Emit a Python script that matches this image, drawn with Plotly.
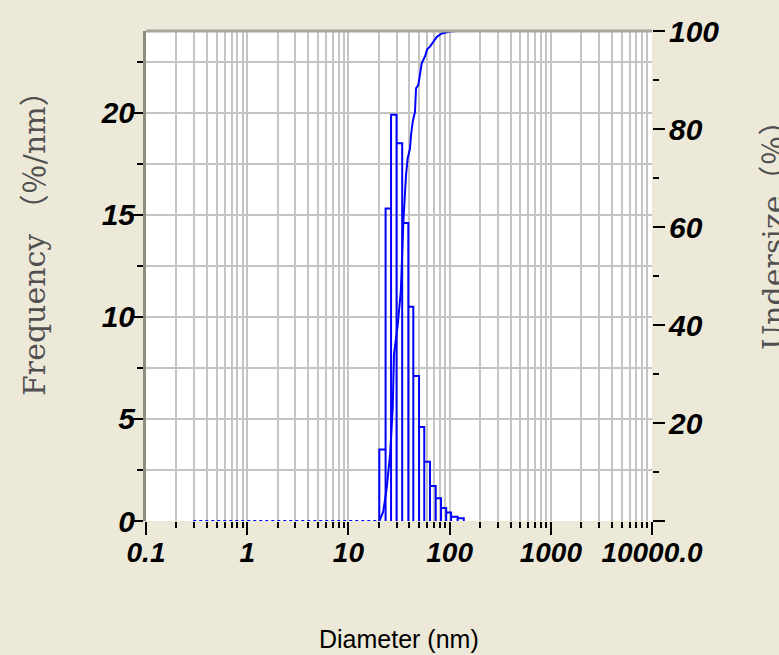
import plotly.graph_objects as go

# ---- data ----
bin_edges_nm = [20.2, 23.3, 26.4, 29.9, 34.0, 39.1, 43.8, 49.9, 56.2, 64.0,
                72.9, 82.3, 92.5, 103.5, 120.0, 138.0]
frequency = [3.5, 15.3, 19.9, 18.5, 14.6, 10.5, 7.1, 4.6, 2.9, 1.72,
             1.11, 0.64, 0.42, 0.21, 0.13]

zero_range_nm = [0.293, 20.2]   # dotted zero-frequency segment
zero_values = [0, 0]

cum_diam_nm = [20.2, 22.1, 23.9, 25.8, 27.4, 28.2, 30.7, 33.0, 34.9, 36.0,
               37.1, 38.5, 40.6, 41.6, 43.2, 45.5, 46.6, 49.1, 50.2, 53.0,
               57.1, 60.2, 64.0, 69.0, 74.6, 83.6, 100.9, 119.0]
undersize = [0.0, 1.9, 6.7, 13.5, 23.0, 33.9, 40.0, 47.0, 61.0, 66.5,
             70.6, 74.0, 76.0, 78.8, 81.5, 83.5, 88.3, 89.0, 90.3, 93.4,
             94.8, 96.3, 96.8, 97.8, 98.8, 99.5, 99.9, 100.0]

x_major = [0.1, 1, 10, 100, 1000, 10000]
x_major_text = ["0.1", "1", "10", "100", "1000", "10000.0"]
x_minor = [m * d for d in [0.1, 1, 10, 100, 1000] for m in range(2, 10)]

y_major = [0, 5, 10, 15, 20]
y_major_text = ["0", "5", "10", "15", "20"]
y_minor = [2.5, 7.5, 12.5, 17.5, 22.5]

y2_major = [0, 20, 40, 60, 80, 100]
y2_major_text = ["", "20", "40", "60", "80", "100"]
y2_minor = [10, 30, 50, 70, 90]

# ---- build histogram outline path from the data ----
hx, hy = [], []
for i, h in enumerate(frequency):
    hx += [bin_edges_nm[i], bin_edges_nm[i], bin_edges_nm[i + 1], bin_edges_nm[i + 1]]
    hy += [0, h, h, 0]

BLUE = "#0000FF"
GRID = "#c4c4c4"
xtickfont = dict(family="Liberation Sans, Arial, sans-serif", size=28,
                 color="black", weight="bold", style="italic")
ytickfont = dict(family="Liberation Sans, Arial, sans-serif", size=30,
                 color="black", weight="bold", style="italic")
titlefont = dict(family="DejaVu Serif, Noto Sans CJK JP, serif", size=30, color="#505050")

fig = go.Figure()
fig.add_trace(go.Scatter(x=zero_range_nm, y=zero_values, mode="lines",
                         line=dict(color=BLUE, width=2, dash="dot"),
                         showlegend=False, hoverinfo="skip"))
fig.add_trace(go.Scatter(x=hx, y=hy, mode="lines",
                         line=dict(color=BLUE, width=2),
                         showlegend=False))
fig.add_trace(go.Scatter(x=cum_diam_nm, y=undersize, mode="lines", yaxis="y2",
                         line=dict(color=BLUE, width=2),
                         showlegend=False))

fig.update_layout(
    width=779, height=655,
    margin=dict(l=146, r=127, t=31, b=134),
    paper_bgcolor="#ECE9D8",
    plot_bgcolor="white",
    xaxis=dict(type="log", range=[-1, 4], tickvals=x_major, ticktext=x_major_text,
               ticks="outside", ticklen=13, tickwidth=2, tickcolor="black",
               tickfont=xtickfont, ticklabelstandoff=-7,
               showgrid=True, gridcolor=GRID, gridwidth=2,
               zeroline=False, showline=False,
               minor=dict(tickvals=x_minor, ticks="outside", ticklen=6, tickwidth=2,
                          tickcolor="black", showgrid=True, gridcolor=GRID, gridwidth=2)),
    yaxis=dict(range=[0, 24], tickvals=y_major, ticktext=y_major_text,
               ticks="outside", ticklen=10, tickwidth=2, tickcolor="black",
               tickfont=ytickfont, ticklabelstandoff=-8,
               showgrid=True, gridcolor=GRID, gridwidth=2,
               zeroline=False, showline=True, linecolor="#8c8c80", linewidth=3,
               minor=dict(tickvals=y_minor, ticks="outside", ticklen=6, tickwidth=2,
                          tickcolor="black", showgrid=True, gridcolor=GRID, gridwidth=2)),
    yaxis2=dict(range=[0, 100], overlaying="y", side="right",
                tickvals=y2_major, ticktext=y2_major_text,
                ticks="outside", ticklen=12, tickwidth=2, tickcolor="black",
                tickfont=ytickfont, ticklabelstandoff=-2,
                showgrid=False, zeroline=False, showline=False,
                minor=dict(tickvals=y2_minor, ticks="outside", ticklen=6, tickwidth=2,
                           tickcolor="black")),
    shapes=[dict(type="line", xref="paper", yref="paper", x0=0, x1=1, y0=1, y1=1,
                 line=dict(color="#a8a89c", width=3), layer="above")],
    annotations=[
        dict(text="Frequency （％/nm）", xref="paper", yref="paper",
             x=(34 - 146) / 506, y=(521 - 236) / 490, xanchor="center", yanchor="middle",
             textangle=-90, showarrow=False, font=titlefont),
        dict(text="Undersize（％）", xref="paper", yref="paper",
             x=(773 - 146) / 506, y=(521 - 228) / 490, xanchor="center", yanchor="middle",
             textangle=-90, showarrow=False, font=titlefont),
        dict(text="Diameter (nm)", xref="paper", yref="paper",
             x=(399 - 146) / 506, y=(521 - 639) / 490, xanchor="center", yanchor="middle",
             showarrow=False,
             font=dict(family="Liberation Sans, Arial, sans-serif", size=25, color="black")),
    ],
)

fig.write_html("out.html")
